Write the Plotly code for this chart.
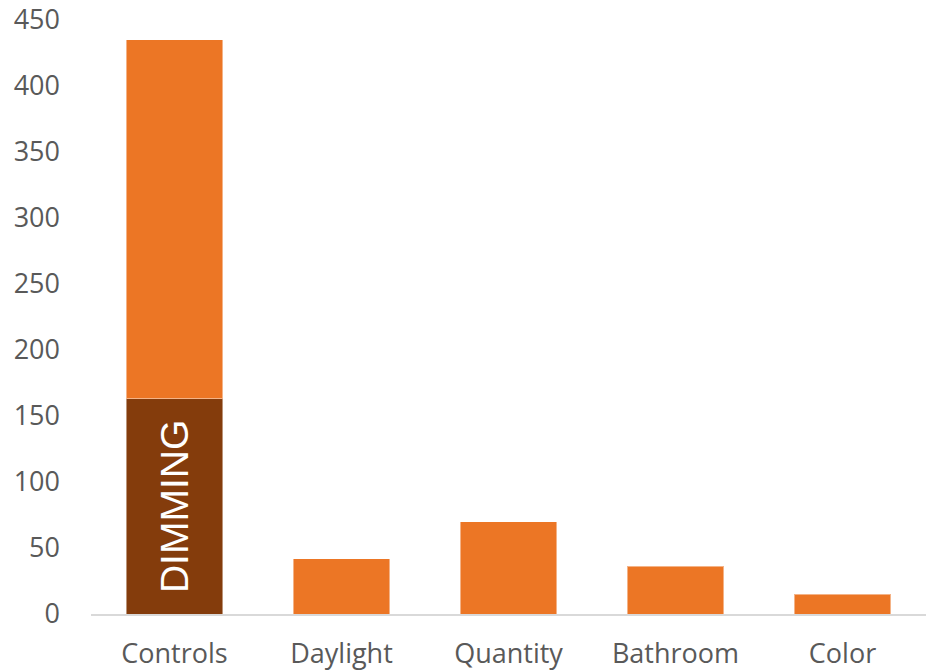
import plotly.graph_objects as go

categories = ["Controls", "Daylight", "Quantity", "Bathroom", "Color"]
totals = [435, 42, 70, 36, 15]
dimming_category = ["Controls"]
dimming_values = [163]
dimming_label = ["DIMMING"]
y_ticks = [0, 50, 100, 150, 200, 250, 300, 350, 400, 450]

remainder = [t - (dimming_values[0] if c == dimming_category[0] else 0) for c, t in zip(categories, totals)]

fig = go.Figure()
fig.add_trace(go.Bar(
    x=dimming_category, y=dimming_values,
    marker=dict(color="#843C0C", line=dict(color="rgba(255,255,255,0.45)", width=1)),
    text=dimming_label, textposition="inside", insidetextanchor="middle",
    textangle=-90,
    textfont=dict(family="Liberation Sans Narrow, Arial Narrow, sans-serif", size=39, color="white", weight=300),
    hoverinfo="skip",
))
fig.add_trace(go.Bar(
    x=categories, y=remainder,
    marker=dict(color="#EC7625", line=dict(color="rgba(255,255,255,0.45)", width=1)),
    hoverinfo="skip",
))

fig.update_layout(
    barmode="stack",
    bargap=0.425,
    width=930, height=672,
    margin=dict(l=91, r=4, t=20, b=58, autoexpand=False),
    paper_bgcolor="white", plot_bgcolor="white",
    showlegend=False,
    font=dict(family="Open Sans, sans-serif", size=27, color="#595959"),
)
fig.update_xaxes(
    showline=True, linecolor="#D9D9D9", linewidth=1.5,
    showgrid=False, ticks="", ticklabelstandoff=15, automargin=False,
    tickfont=dict(size=27, color="#595959"),
)
fig.update_yaxes(
    range=[0, 450], tickvals=y_ticks, showgrid=False, zeroline=False,
    showline=False, ticks="", ticklabelstandoff=30, automargin=False,
    tickfont=dict(size=27, color="#595959"),
)

fig.write_html("out.html", config={"displayModeBar": False})

# remove the default body margin so the figure sits at the window's top-left corner
with open("out.html", "r", encoding="utf-8") as f:
    html = f.read()
html = html.replace("<body>", '<body style="margin:0;padding:0;overflow:hidden">', 1)
with open("out.html", "w", encoding="utf-8") as f:
    f.write(html)
